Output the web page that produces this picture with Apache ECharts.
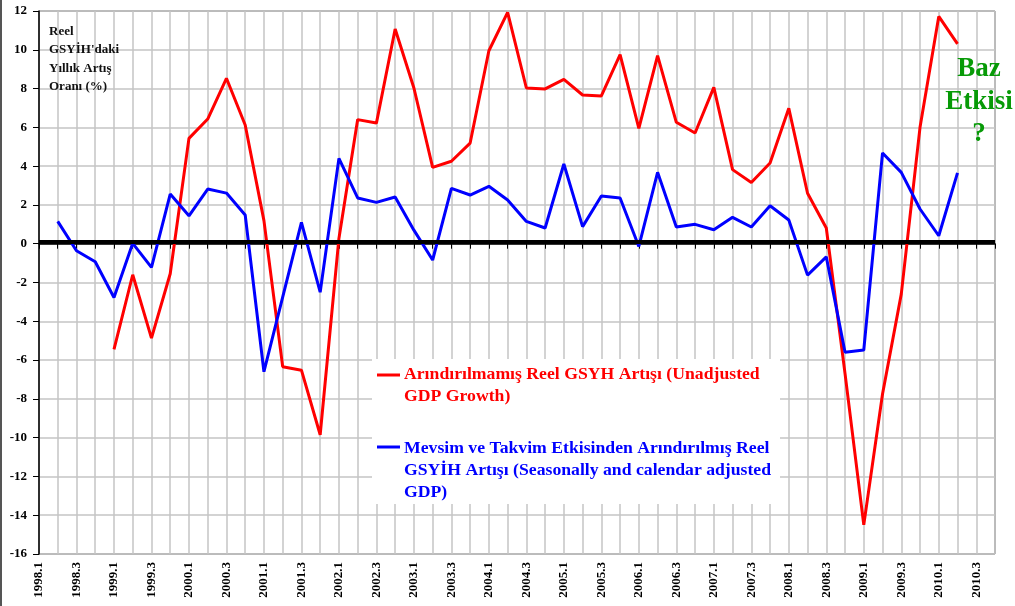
<!DOCTYPE html>
<html>
<head>
<meta charset="utf-8">
<script src="https://cdn.jsdelivr.net/npm/echarts@6/dist/echarts.min.js"></script>
<style>
  html, body { margin: 0; padding: 0; background: #fff; }
  #chart { width: 1015px; height: 606px; }
</style>
</head>
<body>
<div id="chart"></div>
<script>
const quarters = [
  '1998.1', '1998.2', '1998.3', '1998.4', '1999.1', '1999.2', '1999.3', '1999.4',
  '2000.1', '2000.2', '2000.3', '2000.4', '2001.1', '2001.2', '2001.3', '2001.4',
  '2002.1', '2002.2', '2002.3', '2002.4', '2003.1', '2003.2', '2003.3', '2003.4',
  '2004.1', '2004.2', '2004.3', '2004.4', '2005.1', '2005.2', '2005.3', '2005.4',
  '2006.1', '2006.2', '2006.3', '2006.4', '2007.1', '2007.2', '2007.3', '2007.4',
  '2008.1', '2008.2', '2008.3', '2008.4', '2009.1', '2009.2', '2009.3', '2009.4',
  '2010.1', '2010.2', '2010.3', '2010.4'
]

// unadjusted GDP growth (red), starts 1999.1
const unadjusted = [
  null, null, null, null,
  -5.45, -1.6, -4.87, -1.55,
  5.43, 6.43, 8.53, 6.12,
  1.19, -6.34, -6.52, -9.85,
  0.27, 6.4, 6.22, 11.07,
  8.03, 3.94, 4.25, 5.19,
  9.95, 11.93, 8.03, 7.98,
  8.47, 7.67, 7.62, 9.75,
  5.95, 9.7, 6.26, 5.71,
  8.06, 3.82, 3.16, 4.16,
  6.98, 2.6, 0.81, -6.7,
  -14.5, -7.75, -2.6, 6.0,
  11.72, 10.3, null, null
]

// seasonally and calendar adjusted (blue), starts 1998.2
const adjusted = [
  null, 1.15, -0.36, -0.93,
  -2.77, 0.02, -1.22, 2.56,
  1.44, 2.82, 2.61, 1.48,
  -6.6, -2.75, 1.1, -2.5,
  4.4, 2.36, 2.13, 2.41,
  0.7, -0.84, 2.85, 2.51,
  2.96, 2.25, 1.15, 0.81,
  4.11, 0.88, 2.46, 2.36,
  -0.14, 3.68, 0.86, 1.0,
  0.72, 1.36, 0.86, 1.96,
  1.22, -1.62, -0.68, -5.6,
  -5.48, 4.68, 3.68, 1.79,
  0.41, 3.65, null, null
]

const redName = 'Arındırılmamış Reel GSYH Artışı (Unadjusted\nGDP Growth)'
const blueName = 'Mevsim ve Takvim Etkisinden Arındırılmış Reel\nGSYİH Artışı (Seasonally and calendar adjusted\nGDP)'

const serif = '"Liberation Serif", "Times New Roman", serif'

const chart = echarts.init(document.getElementById('chart'))

chart.setOption({
  animation: false,
  backgroundColor: '#fff',
  title: {
    text: "Reel\nGSYİH'daki\nYıllık Artış\nOranı (%)",
    left: 44,
    top: 17,
    textStyle: { fontFamily: serif, fontWeight: 'bold', fontSize: 13, lineHeight: 18.5, color: '#111' },
  },
  grid: {
    left: 39, right: 20, top: 11, bottom: 52,
    show: true, borderColor: '#444', borderWidth: 1,
  },
  xAxis: {
    type: 'category',
    data: quarters,
    boundaryGap: false,
    axisLine: { lineStyle: { color: '#000', width: 1.5 } },
    axisTick: { interval: 0, length: 5, lineStyle: { color: '#000' } },
    axisLabel: {
      interval: 1, rotate: 90, margin: 8,
      fontFamily: serif, fontWeight: 'bold', fontSize: 13, color: '#000',
    },
    splitLine: { show: true, interval: 0, lineStyle: { color: '#c4c4c4', width: 1.5 } },
  },
  yAxis: {
    type: 'value',
    min: -16, max: 12, interval: 2,
    axisLine: { show: true, lineStyle: { color: '#000', width: 1.5 } },
    axisTick: { show: true, length: 6, lineStyle: { color: '#000' } },
    axisLabel: { margin: 12, fontFamily: serif, fontWeight: 'bold', fontSize: 13, color: '#000' },
    splitLine: { lineStyle: { color: '#c4c4c4', width: 1.5 } },
  },
  series: [
    {
      name: redName,
      type: 'line',
      data: unadjusted,
      symbol: 'none',
      lineStyle: { color: '#ff0000', width: 3 },
      itemStyle: { color: '#ff0000' },
      markLine: {
        silent: true,
        symbol: 'none',
        label: { show: false },
        lineStyle: { color: '#000', width: 4, type: 'solid' },
        data: [{ yAxis: 0.1 }],
      },
    },
    {
      name: blueName,
      type: 'line',
      data: adjusted,
      symbol: 'none',
      lineStyle: { color: '#0000ff', width: 3 },
      itemStyle: { color: '#0000ff' },
    },
  ],
  graphic: [
    // left frame edge
    { type: 'rect', left: 0, top: 0, z: 100, shape: { width: 2, height: 606 }, style: { fill: '#555' } },
    // legend box
    { type: 'rect', z: 100, shape: { x: 372, y: 359, width: 408, height: 145 }, style: { fill: '#fff' } },
    { type: 'line', z: 101, shape: { x1: 377, y1: 375, x2: 400, y2: 375 }, style: { stroke: '#ff0000', lineWidth: 3 } },
    {
      type: 'text', z: 101, x: 404, y: 364,
      style: { text: redName, fill: '#ff0000', font: 'bold 17.7px ' + serif, lineHeight: 21.5 },
    },
    { type: 'line', z: 101, shape: { x1: 377, y1: 447, x2: 400, y2: 447 }, style: { stroke: '#0000ff', lineWidth: 3 } },
    {
      type: 'text', z: 101, x: 404, y: 437,
      style: { text: blueName, fill: '#0000ff', font: 'bold 17.7px ' + serif, lineHeight: 22 },
    },
    {
      type: 'text', z: 101, x: 979, y: 53,
      style: {
        text: 'Baz\nEtkisi\n?', fill: '#079a07', align: 'center',
        font: 'bold 27px ' + serif, lineHeight: 32.5,
      },
    },
  ],
})

window.addEventListener('resize', () => chart.resize())
</script>
</body>
</html>
